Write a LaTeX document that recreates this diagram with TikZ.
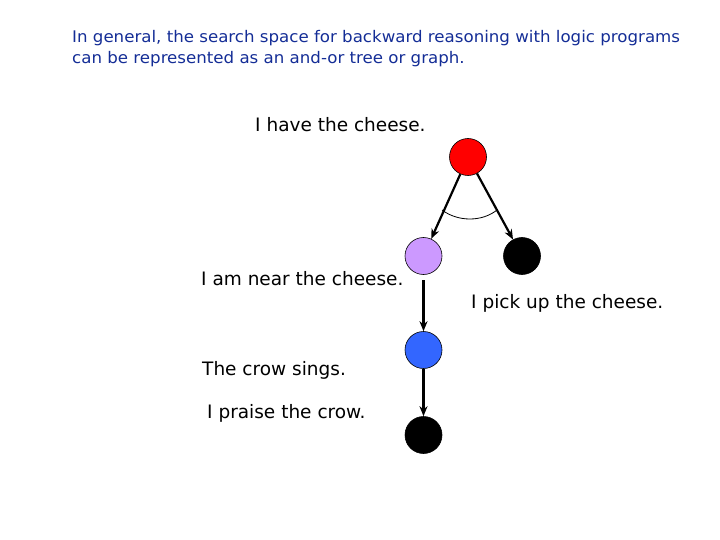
\documentclass[tikz,border=0pt]{standalone}
\usepackage{fontspec}
\setmainfont{DejaVu Sans}
\newfontfamily\labfont{DejaVu Sans}
\newfontfamily\ttlfont[FakeStretch=1.04]{DejaVu Sans}
\usetikzlibrary{arrows.meta}
\begin{document}
\begin{tikzpicture}[x=1pt,y=-1pt,
  dot/.style={circle,draw=black,line width=0.6pt,minimum size=37pt,inner sep=0pt},
  lab/.style={anchor=west,inner sep=0pt,font=\labfont\fontsize{18.5}{22}\selectfont},
  ttl/.style={anchor=west,inner sep=0pt,text=titleblue,font=\ttlfont\fontsize{16}{19}\selectfont},
  arr/.style={-{Stealth[length=10pt,width=8pt]},line width=2.2pt}]
\definecolor{titleblue}{RGB}{20,45,150}
\definecolor{lilac}{RGB}{204,153,255}
\definecolor{myblue}{RGB}{51,102,255}
\useasboundingbox (0,0) rectangle (720,540);
\node[ttl] (t1) at (72,38) {In general, the search space for backward reasoning with logic programs};
\node[ttl] (t2) at (72,59) {can be represented as an and-or tree or graph.};
\node[dot,fill=red] (r) at (468,157) {};
\node[dot,fill=lilac] (p) at (423.5,256) {};
\node[dot,fill=black] (k1) at (522,256) {};
\node[dot,fill=myblue] (b) at (423.5,350) {};
\node[dot,fill=black] (k2) at (423.5,435) {};
\draw[arr] (r) -- (p);
\draw[arr] (r) -- (k1);
\coordinate (ps) at (423.5,280);
\draw[arr] (ps) -- (b);
\draw[arr] (b) -- (k2);
\draw[line width=0.8pt] (442,210) .. controls (458,222) and (482,222) .. (497,210);
\node[lab] (l1) at (255,125) {I have the cheese.};
\node[lab] (l2) at (201,279) {I am near the cheese.};
\node[lab] (l3) at (471,303) {I pick up the cheese.};
\node[lab] (l4) at (202,370) {The crow sings.};
\node[lab] (l5) at (207,413) {I praise the crow.};
\end{tikzpicture}
\end{document}
